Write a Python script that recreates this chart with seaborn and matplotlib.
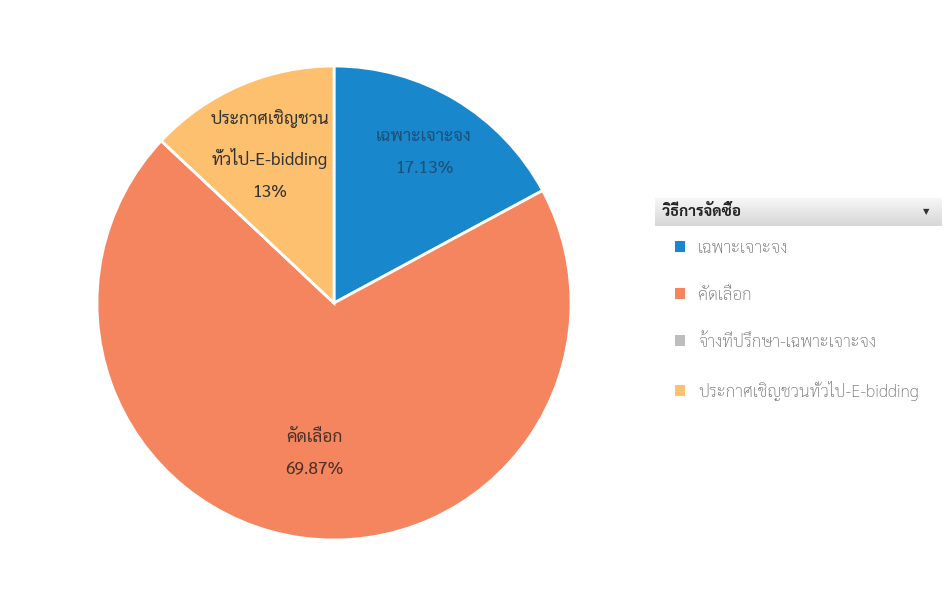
import numpy as np
import matplotlib
matplotlib.use('Agg')
import matplotlib.pyplot as plt
from matplotlib.patches import Patch
import seaborn as sns

# 데이터
categories = ['เฉพาะเจาะจง', 'คัดเลือก', 'จ้างที่ปรึกษา-เฉพาะเจาะจง', 'ประกาศเชิญชวนทั่วไป-E-bidding']
pie_labels = ['เฉพาะเจาะจง', 'คัดเลือก', 'จ้างที่ปรึกษา-เฉพาะเจาะจง', 'ประกาศเชิญชวน\nทั่วไป-E-bidding']
values = [17.13, 69.87, 0.0, 13.0]
pct_text = ['17.13%', '69.87%', '0%', '13%']
legend_title = 'วิธีการจัดซื้อ'

colors = sns.color_palette(['#1987cc', '#f5855f', '#bdbdbd', '#fcc06f'])
label_colors = ['#1d4f78', '#4a3026', '#444444', '#333333']
label_dist = [0.74, 0.64, 0.7, 0.68]

sns.set_theme(style='white')
plt.rcParams['font.family'] = ['Sarabun', 'DejaVu Sans']

fig = plt.figure(figsize=(9.45, 5.95), dpi=100)
ax = fig.add_axes([97 / 945, 55 / 595, 474 / 945, 474 / 595])

wedges, _ = ax.pie(values, colors=colors, startangle=90, counterclock=False,
                   radius=1.0, wedgeprops=dict(edgecolor='white', linewidth=2))
ax.set_xlim(-1, 1)
ax.set_ylim(-1, 1)
ax.set_aspect('equal')
ax.axis('off')

# 라벨
for w, lab, pct, v, c, r in zip(wedges, pie_labels, pct_text, values, label_colors, label_dist):
    if v <= 0:
        continue
    ang = np.deg2rad((w.theta1 + w.theta2) / 2)
    ax.text(r * np.cos(ang), r * np.sin(ang), lab + '\n' + pct, ha='center', va='center',
            fontsize=12.5, color=c, linespacing=2.15)

# 범례 헤더
hx = fig.add_axes([655 / 945, (595 - 226) / 595, 287 / 945, 28 / 595])
grad = np.linspace(0.97, 0.84, 50).reshape(-1, 1)
hx.imshow(grad, aspect='auto', cmap='gray', vmin=0, vmax=1, extent=[0, 1, 0, 1])
hx.axis('off')
hx.text(0.025, 0.5, legend_title, fontsize=11, fontweight='bold', color='#222222',
        va='center', ha='left')
hx.text(0.945, 0.5, '▼', fontsize=6, color='#333333', va='center', ha='center',
        family=['DejaVu Sans'])

handles = [Patch(facecolor=c, edgecolor='none') for c in colors]
leg = fig.legend(handles, categories, loc='upper left',
                 bbox_to_anchor=(666 / 945, (595 - 231) / 595),
                 frameon=False, fontsize=12.3, labelcolor='#6a6a6a', handlelength=0.62,
                 handleheight=0.62, handletextpad=0.75, labelspacing=1.76, borderpad=0)
for t in leg.get_texts():
    t.set_fontweight('light')

fig.savefig('out.png', dpi=100)
